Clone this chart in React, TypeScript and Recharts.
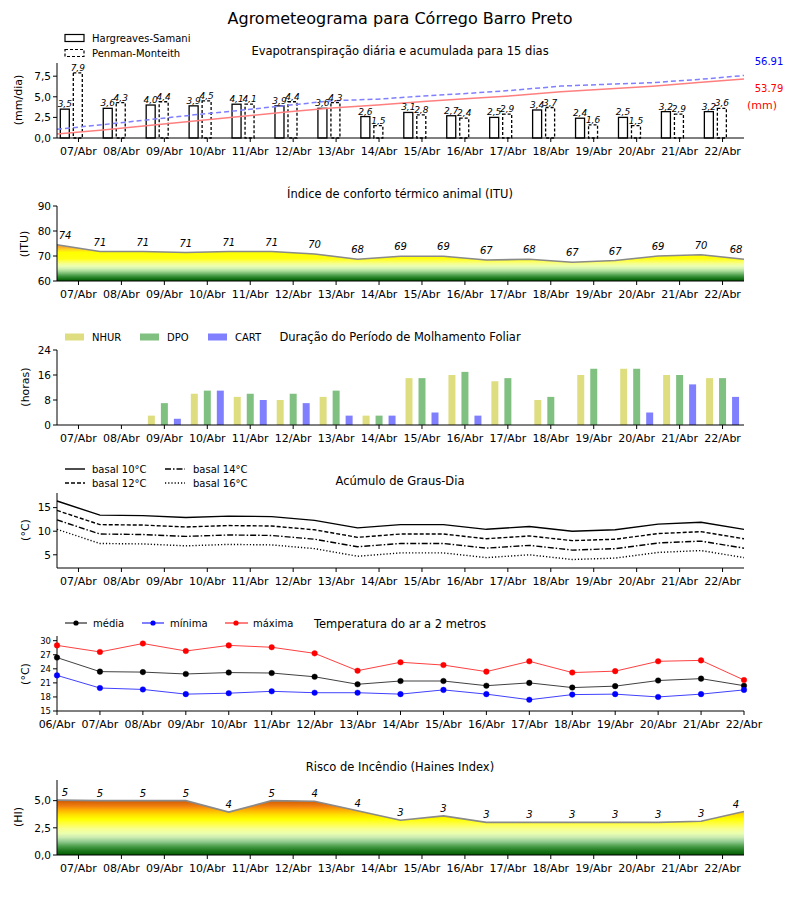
import React from 'react';
import { ComposedChart, Bar, Line, Area, XAxis, YAxis, LabelList, Legend } from 'recharts';

// ---------------- DATA ----------------
const days = ['07/Abr', '08/Abr', '09/Abr', '10/Abr', '11/Abr', '12/Abr', '13/Abr', '14/Abr', '15/Abr', '16/Abr', '17/Abr', '18/Abr', '19/Abr', '20/Abr', '21/Abr', '22/Abr'];
const tempDays = ['06/Abr', '07/Abr', '08/Abr', '09/Abr', '10/Abr', '11/Abr', '12/Abr', '13/Abr', '14/Abr', '15/Abr', '16/Abr', '17/Abr', '18/Abr', '19/Abr', '20/Abr', '21/Abr', '22/Abr'];

const etHargreaves = [3.5, 3.6, 4.0, 3.9, 4.1, 3.9, 3.6, 2.6, 3.1, 2.7, 2.5, 3.4, 2.4, 2.5, 3.2, 3.2];
const etPenman = [7.9, 4.3, 4.4, 4.5, 4.1, 4.4, 4.3, 1.5, 2.8, 2.4, 2.9, 3.7, 1.6, 1.5, 2.9, 3.6];
const etHargreavesAcc = [3.6, 7.3, 11.4, 15.4, 19.6, 23.6, 27.3, 30.0, 33.2, 36.0, 38.6, 42.1, 44.6, 47.2, 50.5, 53.79];
const etPenmanAcc = [7.9, 12.2, 16.6, 21.1, 25.2, 29.6, 33.9, 35.4, 38.2, 40.7, 43.6, 47.3, 48.9, 50.4, 53.3, 56.91];
const etTotals = ['56.91', '53.79'];

const ituValues = [74.5, 71.8, 71.8, 71.4, 71.8, 71.8, 70.8, 68.7, 69.9, 69.9, 68.4, 68.7, 67.5, 68.2, 70.0, 70.5, 68.7];
const ituLabels = [74, 71, 71, 71, 71, 71, 70, 68, 69, 69, 67, 68, 67, 67, 69, 70, 68];

const wetNHUR = [0, 0, 3, 10, 9, 8, 9, 3, 15, 16, 14, 8, 16, 18, 16, 15];
const wetDPO = [0, 0, 7, 11, 10, 10, 11, 3, 15, 17, 15, 9, 18, 18, 16, 15];
const wetCART = [0, 0, 2, 11, 8, 7, 3, 3, 4, 3, 0, 0, 0, 4, 13, 9];

const gdd10 = [16.4, 13.4, 13.3, 12.9, 13.2, 13.1, 12.3, 10.7, 11.4, 11.4, 10.4, 11.0, 10.0, 10.3, 11.5, 11.9, 10.4];
const gdd12 = [14.4, 11.4, 11.3, 10.9, 11.2, 11.1, 10.3, 8.7, 9.4, 9.4, 8.4, 9.0, 8.0, 8.3, 9.5, 9.9, 8.4];
const gdd14 = [12.4, 9.4, 9.3, 8.9, 9.2, 9.1, 8.3, 6.7, 7.4, 7.4, 6.4, 7.0, 6.0, 6.3, 7.5, 7.9, 6.4];
const gdd16 = [10.4, 7.4, 7.3, 6.9, 7.2, 7.1, 6.3, 4.7, 5.4, 5.4, 4.4, 5.0, 4.0, 4.3, 5.5, 5.9, 4.4];

const tMed = [26.4, 23.4, 23.3, 22.9, 23.2, 23.1, 22.3, 20.7, 21.4, 21.4, 20.4, 21.0, 20.0, 20.3, 21.5, 21.9, 20.4];
const tMin = [22.6, 19.9, 19.6, 18.6, 18.8, 19.2, 18.9, 18.9, 18.6, 19.5, 18.6, 17.4, 18.5, 18.6, 18.0, 18.6, 19.5];
const tMax = [29.0, 27.6, 29.4, 27.8, 29.0, 28.6, 27.3, 23.6, 25.4, 24.8, 23.4, 25.6, 23.2, 23.5, 25.6, 25.8, 21.6];

const hainesValues = [5.05, 5.0, 5.0, 5.0, 3.95, 5.0, 4.94, 4.07, 3.2, 3.6, 3.0, 3.0, 3.0, 3.0, 3.0, 3.1, 4.0];
const hainesLabels = [5, 5, 5, 5, 4, 5, 4, 4, 3, 3, 3, 3, 3, 3, 3, 3, 4];

// ---------------- TABLES ----------------
const etData = days.map((d, i) => ({ day: d, idx: i, hs: etHargreaves[i], pm: etPenman[i], hsAcc: etHargreavesAcc[i], pmAcc: etPenmanAcc[i] }));
const ituData = ituValues.map((v, i) => ({ idx: i, itu: v, label: ituLabels[i] }));
const wetData = days.map((d, i) => ({ day: d, nhur: wetNHUR[i], dpo: wetDPO[i], cart: wetCART[i] }));
const gddData = gdd10.map((v, i) => ({ idx: i, b10: v, b12: gdd12[i], b14: gdd14[i], b16: gdd16[i] }));
const tempData = tMed.map((v, i) => ({ idx: i, med: v, min: tMin[i], max: tMax[i] }));
const hainesData = hainesValues.map((v, i) => ({ idx: i, hi: v, label: hainesLabels[i] }));

const midTicks = days.map((_, i) => i + 0.5);
const dayTicks = tempDays.map((_, i) => i);

// ---------------- LAYOUT ----------------
const FONT = "'DejaVu Sans', 'Liberation Sans', sans-serif";
const W = 800;
const MT = 5;
const PH = 75;
const XH = 25;
const CH = MT + PH + XH;
const MARGIN = { top: MT, right: 56, bottom: 0, left: 0 };
const YW = 57;
const tops = { et: 63, itu: 206, wet: 350, gdd: 493, temp: 636, hi: 780 };

const comma1 = (v: number) => Number(v).toFixed(1).replace('.', ',');
const tickStyle = { fill: '#000', fontSize: 11, fontFamily: FONT };
const yTickStyle = { fill: '#000', fontSize: 10.5, fontFamily: FONT };

function xy(p: any) {
  const vb = p.viewBox || {};
  return { x: p.x ?? vb.x ?? 0, y: p.y ?? vb.y ?? 0, w: p.width ?? vb.width ?? 0 };
}

const ET_SHIFT = -6.7;
const HSShape = (p: any) => (
  <rect x={p.x + ET_SHIFT} y={p.y} width={p.width} height={Math.max(0, p.height)} fill="#fff" stroke="#000" strokeWidth={1.3} />
);
const PMShape = (p: any) => (
  <rect x={p.x + ET_SHIFT} y={p.y} width={p.width} height={Math.max(0, p.height)} fill="#fff" stroke="#000" strokeWidth={1.3} strokeDasharray="3 2" />
);
const barLabel = (p: any) => {
  const { x, y, w } = xy(p);
  return (
    <text x={x + w / 2 + ET_SHIFT} y={y - 2} textAnchor="middle" fontSize={9} fontStyle="italic" fontFamily={FONT} fill="#000">
      {comma1(p.value)}
    </text>
  );
};
const pointLabel = (dy: number) => (p: any) => {
  const { x, y } = xy(p);
  let dx = 0;
  if (x < 62) dx = 8;
  else if (x > 738) dx = -8;
  return (
    <text x={x + dx} y={y + dy} textAnchor="middle" fontSize={10} fontStyle="italic" fontFamily={FONT} fill="#000">
      {p.value}
    </text>
  );
};

function gradient(id: string, stops: [number, string][], min: number, max: number) {
  const sorted = [...stops].sort((a, b) => b[0] - a[0]);
  return (
    <defs>
      <linearGradient id={id} gradientUnits="userSpaceOnUse" x1={0} x2={0} y1={MT} y2={MT + PH}>
        {sorted.map(([v, c], k) => (
          <stop key={k} offset={(max - v) / (max - min)} stopColor={c} />
        ))}
      </linearGradient>
    </defs>
  );
}

const ituStops: [number, string][] = [
  [60, '#005a00'], [61, '#1b771b'], [62, '#3f963f'], [63, '#74ba6f'], [64, '#a9dc98'], [65, '#d3f2b2'],
  [66, '#ecffb0'], [67, '#f7ff8c'], [68, '#fdff4a'], [69, '#ffff10'], [71.5, '#ffff00'], [72.5, '#ffd820'],
  [73.5, '#f8b030'], [75, '#ee9a28'],
];
const hiStops: [number, string][] = [
  [0, '#005a00'], [0.4, '#1e781e'], [0.8, '#4a9e4a'], [1.2, '#8cc88c'], [1.6, '#c8eab0'], [2.0, '#ecffb0'],
  [2.4, '#f8ff90'], [2.8, '#ffff50'], [3.3, '#ffff00'], [3.7, '#ffe000'], [4.1, '#ffb400'], [4.5, '#f08010'],
  [5.0, '#d05a00'], [6, '#c04a00'],
];

const frameTop = (
  <XAxis xAxisId="frameTop" orientation="top" height={0} tick={false} tickLine={false} axisLine={{ stroke: '#000' }} />
);
const frameRight = (
  <YAxis yAxisId="frameRight" orientation="right" width={0} tick={false} tickLine={false} axisLine={{ stroke: '#000' }} />
);

const legendWrap = (left: number, top: number, width: number, height: number) => ({
  left, top, width, height, position: 'absolute' as const,
});

// ---------------- PANELS ----------------
function EtPanel() {
  return (
    <div style={{ position: 'absolute', left: 0, top: tops.et - MT }}>
      <ComposedChart width={W} height={CH} data={etData} margin={MARGIN} barGap={4}>
        <XAxis xAxisId="cat" dataKey="day" type="category" height={XH} stroke="#000" tickSize={4} tickMargin={5} tick={tickStyle} interval={0} />
        <XAxis xAxisId="num" dataKey="idx" type="number" domain={[0, 15]} hide />
        {frameTop}
        <YAxis yAxisId="left" width={YW} domain={[0, 9.1]} ticks={[0, 2.5, 5, 7.5]} interval={0} tickFormatter={comma1} stroke="#000" tickSize={4} tick={yTickStyle} />
        <YAxis yAxisId="acc" orientation="right" width={0} domain={[0, 68.3]} tick={false} tickLine={false} axisLine={{ stroke: '#000' }} />
        <Bar xAxisId="cat" yAxisId="left" dataKey="hs" barSize={9} shape={HSShape} isAnimationActive={false}>
          <LabelList dataKey="hs" content={barLabel} />
        </Bar>
        <Bar xAxisId="cat" yAxisId="left" dataKey="pm" barSize={9} shape={PMShape} isAnimationActive={false}>
          <LabelList dataKey="pm" content={barLabel} />
        </Bar>
        <Line xAxisId="num" yAxisId="acc" dataKey="hsAcc" stroke="#ff7f7f" strokeWidth={1.5} dot={false} isAnimationActive={false} />
        <Line xAxisId="num" yAxisId="acc" dataKey="pmAcc" stroke="#7f7fff" strokeWidth={1.5} strokeDasharray="5 3" dot={false} isAnimationActive={false} />
        <Legend layout="horizontal" verticalAlign="middle" align="center" wrapperStyle={legendWrap(60, -28, 150, 32)}
          content={() => (
            <svg width={150} height={32} style={{ overflow: 'visible' }}>
              <rect x={5} y={4.5} width={19} height={7} fill="#fff" stroke="#000" strokeWidth={1.2} />
              <text x={32} y={11.5} fontSize={10} fontFamily={FONT} fill="#000">Hargreaves-Samani</text>
              <rect x={5} y={19.5} width={19} height={7} fill="#fff" stroke="#000" strokeWidth={1.2} strokeDasharray="3 2" />
              <text x={32} y={26.5} fontSize={10} fontFamily={FONT} fill="#000">Penman-Monteith</text>
            </svg>
          )} />
      </ComposedChart>
    </div>
  );
}

function ItuPanel() {
  return (
    <div style={{ position: 'absolute', left: 0, top: tops.itu - MT }}>
      <ComposedChart width={W} height={CH} data={ituData} margin={MARGIN}>
        {gradient('ituGrad', ituStops, 60, 90)}
        <XAxis dataKey="idx" type="number" domain={[0, 16]} ticks={midTicks} interval={0} tickFormatter={(v: number) => days[Math.round(v - 0.5)]} height={XH} stroke="#000" tickSize={4} tickMargin={5} tick={tickStyle} />
        {frameTop}
        <YAxis width={YW} domain={[60, 90]} ticks={[60, 70, 80, 90]} interval={0} stroke="#000" tickSize={4} tick={yTickStyle} />
        {frameRight}
        <Area dataKey="itu" type="linear" fill="url(#ituGrad)" fillOpacity={1} stroke="#8a8a8a" strokeWidth={1.6} isAnimationActive={false}>
          <LabelList dataKey="label" content={pointLabel(-6)} />
        </Area>
      </ComposedChart>
    </div>
  );
}

function WetPanel() {
  return (
    <div style={{ position: 'absolute', left: 0, top: tops.wet - MT }}>
      <ComposedChart width={W} height={CH} data={wetData} margin={MARGIN} barGap={6}>
        <XAxis dataKey="day" type="category" height={XH} stroke="#000" tickSize={4} tickMargin={5} tick={tickStyle} interval={0} />
        {frameTop}
        <YAxis width={YW} domain={[0, 24]} ticks={[0, 8, 16, 24]} interval={0} stroke="#000" tickSize={4} tick={yTickStyle} />
        {frameRight}
        <Bar dataKey="nhur" barSize={7} fill="#dede80" isAnimationActive={false} />
        <Bar dataKey="dpo" barSize={7} fill="#80c080" isAnimationActive={false} />
        <Bar dataKey="cart" barSize={7} fill="#8080ff" isAnimationActive={false} />
        <Legend layout="horizontal" verticalAlign="middle" align="center" wrapperStyle={legendWrap(60, -16, 220, 16)}
          content={() => (
            <svg width={220} height={16} style={{ overflow: 'visible' }}>
              <rect x={5} y={4.5} width={19} height={7} fill="#dede80" />
              <text x={32} y={11.5} fontSize={10} fontFamily={FONT} fill="#000">NHUR</text>
              <rect x={80} y={4.5} width={19} height={7} fill="#80c080" />
              <text x={107} y={11.5} fontSize={10} fontFamily={FONT} fill="#000">DPO</text>
              <rect x={148} y={4.5} width={19} height={7} fill="#8080ff" />
              <text x={175} y={11.5} fontSize={10} fontFamily={FONT} fill="#000">CART</text>
            </svg>
          )} />
      </ComposedChart>
    </div>
  );
}

function GddPanel() {
  return (
    <div style={{ position: 'absolute', left: 0, top: tops.gdd - MT }}>
      <ComposedChart width={W} height={CH} data={gddData} margin={MARGIN}>
        <XAxis dataKey="idx" type="number" domain={[0, 16]} ticks={midTicks} interval={0} tickFormatter={(v: number) => days[Math.round(v - 0.5)]} height={XH} stroke="#000" tickSize={4} tickMargin={5} tick={tickStyle} />
        {frameTop}
        <YAxis width={YW} domain={[2.2, 18.1]} ticks={[5, 10, 15]} interval={0} stroke="#000" tickSize={4} tick={yTickStyle} allowDataOverflow />
        {frameRight}
        <Line dataKey="b10" stroke="#000" strokeWidth={1.4} dot={false} isAnimationActive={false} />
        <Line dataKey="b12" stroke="#000" strokeWidth={1.4} strokeDasharray="4 2" dot={false} isAnimationActive={false} />
        <Line dataKey="b14" stroke="#000" strokeWidth={1.4} strokeDasharray="6 2 1.5 2" dot={false} isAnimationActive={false} />
        <Line dataKey="b16" stroke="#000" strokeWidth={1.4} strokeDasharray="1.2 2" dot={false} isAnimationActive={false} />
        <Legend layout="horizontal" verticalAlign="middle" align="center" wrapperStyle={legendWrap(60, -27, 200, 30)}
          content={() => (
            <svg width={200} height={30} style={{ overflow: 'visible' }}>
              <line x1={5} x2={25} y1={8} y2={8} stroke="#000" strokeWidth={1.4} />
              <text x={32} y={11.5} fontSize={10} fontFamily={FONT} fill="#000">basal 10°C</text>
              <line x1={5} x2={25} y1={22} y2={22} stroke="#000" strokeWidth={1.4} strokeDasharray="4 2" />
              <text x={32} y={25.5} fontSize={10} fontFamily={FONT} fill="#000">basal 12°C</text>
              <line x1={105} x2={125} y1={8} y2={8} stroke="#000" strokeWidth={1.4} strokeDasharray="6 2 1.5 2" />
              <text x={133} y={11.5} fontSize={10} fontFamily={FONT} fill="#000">basal 14°C</text>
              <line x1={105} x2={125} y1={22} y2={22} stroke="#000" strokeWidth={1.4} strokeDasharray="1.2 2" />
              <text x={133} y={25.5} fontSize={10} fontFamily={FONT} fill="#000">basal 16°C</text>
            </svg>
          )} />
      </ComposedChart>
    </div>
  );
}

function TempPanel() {
  return (
    <div style={{ position: 'absolute', left: 0, top: tops.temp - MT }}>
      <ComposedChart width={W} height={CH} data={tempData} margin={MARGIN}>
        <XAxis dataKey="idx" type="number" domain={[0, 16]} ticks={dayTicks} interval={0} tickFormatter={(v: number) => tempDays[Math.round(v)]} height={XH} stroke="#000" tickSize={4} tickMargin={5} tick={tickStyle} />
        {frameTop}
        <YAxis width={YW} domain={[15, 31]} ticks={[15, 18, 21, 24, 27, 30]} interval={0} stroke="#000" tickSize={4} tick={{ ...yTickStyle, fontSize: 8.5 }} />
        {frameRight}
        <Line dataKey="med" stroke="#000" strokeOpacity={0.75} strokeWidth={1} dot={{ r: 2.8, fill: '#000', stroke: '#000', strokeWidth: 0.5 }} isAnimationActive={false} />
        <Line dataKey="min" stroke="#0000ff" strokeOpacity={0.75} strokeWidth={1} dot={{ r: 2.8, fill: '#0000ff', stroke: '#0000ff', strokeWidth: 0.5 }} isAnimationActive={false} />
        <Line dataKey="max" stroke="#ff0000" strokeOpacity={0.75} strokeWidth={1} dot={{ r: 2.8, fill: '#ff0000', stroke: '#ff0000', strokeWidth: 0.5 }} isAnimationActive={false} />
        <Legend layout="horizontal" verticalAlign="middle" align="center" wrapperStyle={legendWrap(60, -16, 240, 16)}
          content={() => (
            <svg width={240} height={16} style={{ overflow: 'visible' }}>
              <line x1={5} x2={27} y1={8} y2={8} stroke="#000" strokeWidth={1} />
              <circle cx={16} cy={8} r={2.6} fill="#000" />
              <text x={33} y={11.5} fontSize={10} fontFamily={FONT} fill="#000">média</text>
              <line x1={82} x2={104} y1={8} y2={8} stroke="#0000ff" strokeWidth={1} />
              <circle cx={93} cy={8} r={2.6} fill="#0000ff" />
              <text x={110} y={11.5} fontSize={10} fontFamily={FONT} fill="#000">mínima</text>
              <line x1={165} x2={188} y1={8} y2={8} stroke="#ff0000" strokeWidth={1} />
              <circle cx={176} cy={8} r={2.6} fill="#ff0000" />
              <text x={193} y={11.5} fontSize={10} fontFamily={FONT} fill="#000">máxima</text>
            </svg>
          )} />
      </ComposedChart>
    </div>
  );
}

function HainesPanel() {
  return (
    <div style={{ position: 'absolute', left: 0, top: tops.hi - MT }}>
      <ComposedChart width={W} height={CH} data={hainesData} margin={MARGIN}>
        {gradient('hiGrad', hiStops, 0, 6.9)}
        <XAxis dataKey="idx" type="number" domain={[0, 16]} ticks={midTicks} interval={0} tickFormatter={(v: number) => days[Math.round(v - 0.5)]} height={XH} stroke="#000" tickSize={4} tickMargin={5} tick={tickStyle} />
        {frameTop}
        <YAxis width={YW} domain={[0, 6.9]} ticks={[0, 2.5, 5]} interval={0} tickFormatter={comma1} stroke="#000" tickSize={4} tick={yTickStyle} />
        {frameRight}
        <Area dataKey="hi" type="linear" fill="url(#hiGrad)" fillOpacity={1} stroke="#8a8a8a" strokeWidth={1.6} isAnimationActive={false}>
          <LabelList dataKey="label" content={pointLabel(-4)} />
        </Area>
      </ComposedChart>
    </div>
  );
}

// ---------------- OVERLAY TEXT ----------------
function Overlay() {
  const t = (x: number, y: number, s: string, size = 11, extra: any = {}) => (
    <text x={x} y={y} fontSize={size} fontFamily={FONT} fill="#000" textAnchor="middle" dominantBaseline="central" {...extra}>{s}</text>
  );
  const yl = (x: number, y: number, s: string) => (
    <text x={x} y={y} fontSize={11} fontFamily={FONT} fill="#000" textAnchor="middle" dominantBaseline="central" transform={`rotate(-90 ${x} ${y})`}>{s}</text>
  );
  return (
    <svg width={W} height={900} style={{ position: 'absolute', left: 0, top: 0, pointerEvents: 'none' }}>
      {t(400, 18, 'Agrometeograma para Córrego Barro Preto', 16)}
      {t(400, 51, 'Evapotranspiração diária e acumulada para 15 dias', 11.5)}
      {t(769, 61, etTotals[0], 10, { fill: '#0000ff' })}
      {t(769, 88, etTotals[1], 10, { fill: '#ff0000' })}
      {t(762, 105, '(mm)', 11, { fill: '#ff0000' })}
      {t(400, 194, 'Índice de conforto térmico animal (ITU)', 11.5)}
      {t(400, 337, 'Duração do Período de Molhamento Foliar', 11.5)}
      {t(400, 481, 'Acúmulo de Graus-Dia', 11.5)}
      {t(400, 624, 'Temperatura do ar a 2 metros', 11.5)}
      {t(400, 767, 'Risco de Incêndio (Haines Index)', 11.5)}
      {yl(18, 100, '(mm/dia)')}
      {yl(24, 244, '(ITU)')}
      {yl(25, 387, '(horas)')}
      {yl(25, 530, '(°C)')}
      {yl(25, 674, '(°C)')}
      {yl(18, 817, '(HI)')}
    </svg>
  );
}

export default function App() {
  return (
    <div style={{ position: 'absolute', left: 0, top: 0, width: W, height: 900, background: '#fff', fontFamily: FONT }}>
      <EtPanel />
      <ItuPanel />
      <WetPanel />
      <GddPanel />
      <TempPanel />
      <HainesPanel />
      <Overlay />
    </div>
  );
}
